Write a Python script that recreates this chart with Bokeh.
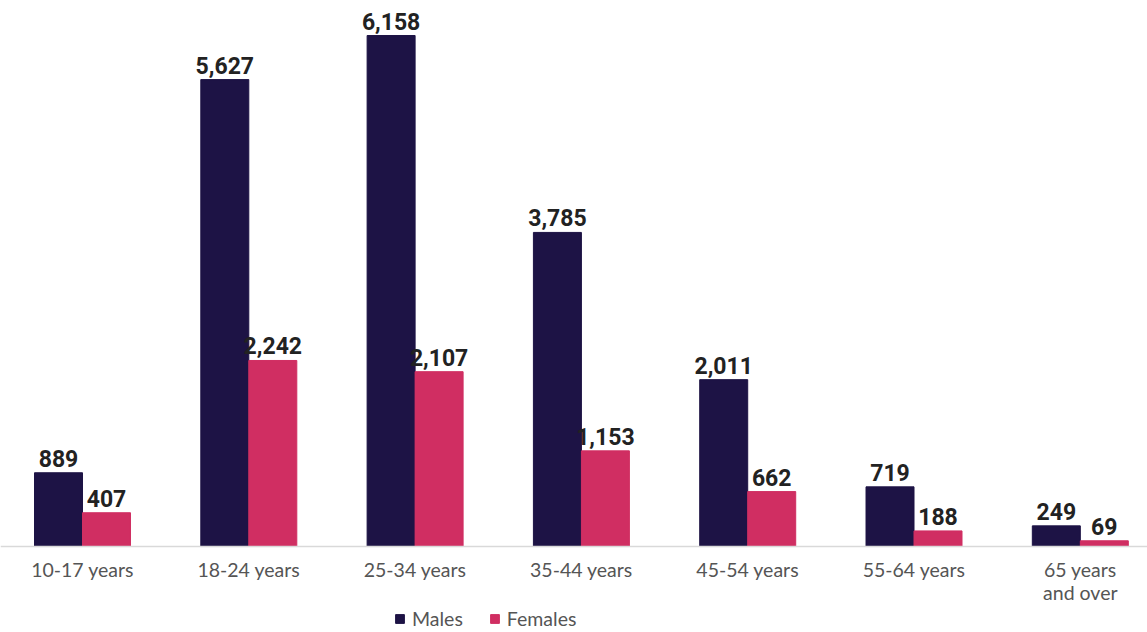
from bokeh.plotting import figure
from bokeh.models import ColumnDataSource, LabelSet, Legend, LegendItem, FixedTicker, Range1d
from bokeh.core.properties import value
from bokeh.embed import file_html
from bokeh.resources import INLINE

categories = ["10-17 years", "18-24 years", "25-34 years", "35-44 years",
              "45-54 years", "55-64 years", "65 years\nand over"]
males = [889, 5627, 6158, 3785, 2011, 719, 249]
females = [407, 2242, 2107, 1153, 662, 188, 69]

NAVY = "#1d1345"
PINK = "#d02e62"
FONT = "Lato"
BOLD_FONT = "Roboto"

idx = list(range(len(categories)))
bw = 0.2886
src_m = ColumnDataSource(dict(x=[i - bw / 2 for i in idx], y=males,
                              t=[f"{v:,}" for v in males]))
src_f = ColumnDataSource(dict(x=[i + bw / 2 for i in idx], y=females,
                              t=[f"{v:,}" for v in females]))

p = figure(width=1147, height=630, output_backend="svg", toolbar_location=None,
           x_range=Range1d(-0.4931, 6.404), y_range=Range1d(-1012, 6580),
           min_border=0, min_border_left=0, min_border_right=0,
           min_border_top=0, min_border_bottom=0)
p.outline_line_color = None
p.xgrid.visible = False
p.ygrid.visible = False
p.yaxis.visible = False

rm = p.vbar(x="x", top="y", bottom=0, width=bw, source=src_m,
            fill_color=NAVY, line_color=NAVY)
rf = p.vbar(x="x", top="y", bottom=0, width=bw, source=src_f,
            fill_color=PINK, line_color=PINK)

for s in (src_m, src_f):
    p.add_layout(LabelSet(x="x", y="y", text="t", source=s, text_align="center",
                          text_baseline="bottom", y_offset=6,
                          text_font=value(BOLD_FONT), text_font_style="bold",
                          text_font_size="23px", text_color="#222222"))

ax = p.xaxis[0]
ax.fixed_location = 0
ax.ticker = FixedTicker(ticks=idx)
ax.major_label_overrides = {i: c for i, c in enumerate(categories)}
ax.major_tick_line_color = None
ax.minor_tick_line_color = None
ax.axis_line_color = "#d9d9d9"
ax.axis_line_width = 1.5
ax.major_label_standoff = 5
ax.major_label_text_font = FONT
ax.major_label_text_font_size = "19.5px"
ax.major_label_text_color = "#555555"
ax.major_label_text_line_height = 1.0

legend = Legend(items=[LegendItem(label="Males", renderers=[rm]),
                       LegendItem(label="Females", renderers=[rf])],
                orientation="horizontal", location=(394, 0),
                border_line_color=None, background_fill_alpha=0,
                padding=0, margin=0, spacing=26, label_standoff=7,
                glyph_width=11, glyph_height=11,
                label_text_font=FONT, label_text_font_size="19.5px",
                label_text_color="#555555")
p.add_layout(legend)

open("out.html", "w").write(file_html(p, INLINE))
